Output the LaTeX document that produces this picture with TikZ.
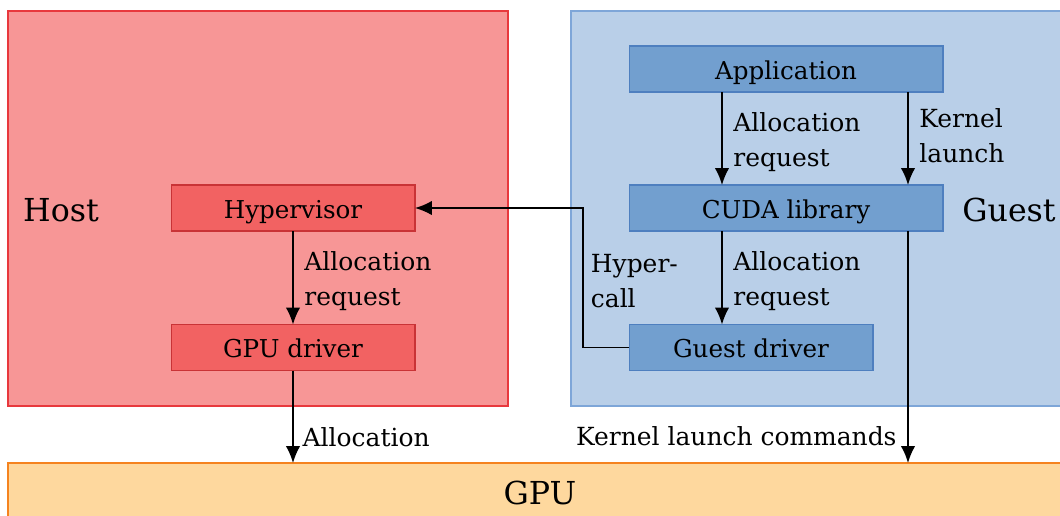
\documentclass[tikz,border=0pt]{standalone}
\usepackage{fontspec}
\setmainfont{DejaVu Serif}
\usetikzlibrary{arrows.meta, positioning}
\definecolor{hostbg}{HTML}{F79696}
\definecolor{hostln}{HTML}{E8383D}
\definecolor{hostbx}{HTML}{F26262}
\definecolor{hostbxln}{HTML}{C93336}
\definecolor{guestbg}{HTML}{B9CFE8}
\definecolor{guestln}{HTML}{7EA6D8}
\definecolor{guestbx}{HTML}{729FCF}
\definecolor{guestbxln}{HTML}{4E7FBF}
\definecolor{gpubg}{HTML}{FED89E}
\definecolor{gpuln}{HTML}{F5831F}

\begin{document}
\begin{tikzpicture}[x=0.02cm, y=-0.02cm,
  area/.style={draw, line width=0.8pt, inner sep=0pt, outer sep=0pt},
  hbox/.style={draw=hostbxln, fill=hostbx, line width=0.6pt, inner sep=0pt, outer sep=0pt, minimum width=4.88cm, minimum height=0.92cm, text height=11.5pt, text depth=0pt, font=\fontsize{14}{16}\selectfont},
  gbox/.style={hbox, draw=guestbxln, fill=guestbx},
  arr/.style={-{Latex[length=3.4mm, width=2.9mm]}, line width=1pt},
  lbl/.style={align=left, inner sep=0pt, yshift=-2pt, font=\fontsize{14.2}{20}\selectfont},
  big/.style={font=\fontsize{18}{20}\selectfont}]
  \useasboundingbox (0,0) rectangle (1060,515);

  \node[area, draw=hostln, fill=hostbg, minimum width=10cm, minimum height=7.9cm] (host) at (258,208.5) {};
  \node[area, draw=guestln, fill=guestbg, minimum width=10.58cm, minimum height=7.9cm] (guest) at (835.5,208.5) {};
  \node[area, draw=gpuln, fill=gpubg, minimum width=21.84cm, minimum height=1.54cm] (gpu) at (554,501.5) {};

  \node[big] (hostlbl) at (61,210) {Host};
  \node[big] (guestlbl) at (1009,210) {Guest};
  \node[big] (gpulbl) at (540,493) {GPU};

  \node[hbox] (hyp) at (293,208) {Hypervisor};
  \node[hbox] (gdrv) at (293,347.5) {GPU driver};
  \node[gbox, minimum width=6.28cm] (app) at (786,69) {Application};
  \node[gbox, minimum width=6.28cm] (cuda) at (786,208) {CUDA library};
  \node[gbox] (gstdrv) at (751,347.5) {Guest driver};

  \coordinate (al) at (722,0);
  \coordinate (kl) at (908,0);
  \coordinate (hc) at (583,0);

  \draw[arr] (hyp) -- (gdrv) node[midway, right=6pt, lbl] {Allocation\\request};
  \draw[arr] (app.south -| al) -- (cuda.north -| al) node[midway, right=6pt, lbl] {Allocation\\request};
  \draw[arr] (app.south -| kl) -- (cuda.north -| kl) node[midway, right=6pt, lbl, yshift=2.2pt] {Kernel\\launch\vphantom{q}};
  \draw[arr] (cuda.south -| al) -- (gstdrv.north -| al) node[midway, right=6pt, lbl] {Allocation\\request};
  \draw[arr] (gstdrv.west) -- (gstdrv.west -| hc) |- (hyp.east) node[pos=0.25, right=4pt, lbl] {Hyper-\\call};
  \draw[arr] (gdrv) -- (gpu.north -| gdrv) node[pos=0.68, right=5pt, lbl] {Allocation};
  \draw[arr] (cuda.south -| kl) -- (gpu.north -| kl) node[pos=0.87, left=6pt, lbl] {Kernel launch commands};
\end{tikzpicture}
\end{document}
